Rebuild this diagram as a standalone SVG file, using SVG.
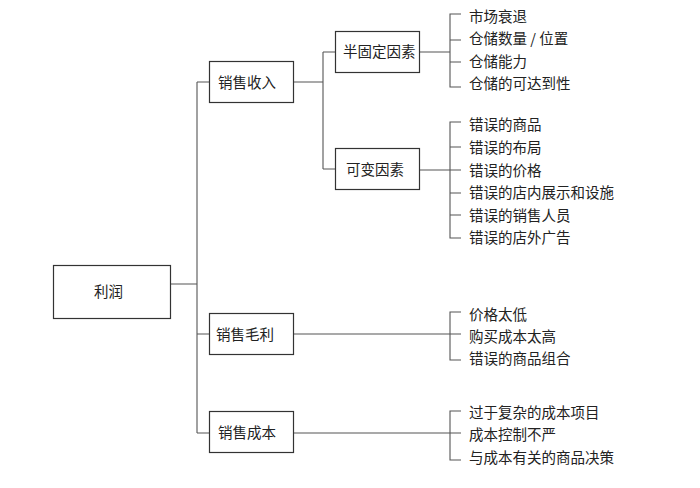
<svg xmlns="http://www.w3.org/2000/svg" width="700" height="488" viewBox="0 0 700 488">
<style>
.box{fill:#fff;stroke:#333;stroke-width:1.2}
.t{font-family:"Noto Sans CJK SC","Noto Sans",sans-serif;font-size:14.5px;fill:#222}
.c{fill:none;stroke:#555;stroke-width:1.1}
</style>
<rect width="700" height="488" fill="#fff"/>
<g id="connectors" class="c">
<path d="M170 284H197M197 82V433M197 82H209M197 334H209M197 433H209"/>
<path d="M293 82H323M323 52V169M323 52H335M323 169H335"/>
<path d="M419 52H450M461 14H450V87H461M450 40H461M450 62H461"/>
<path d="M419 170H461M461 122H450V238H461M450 147H461M450 193H461M450 215H461"/>
<path d="M293 334H461M461 312H450V360H461"/>
<path d="M293 433H461M461 411H450V460H461"/>
</g>
<g id="profit"><rect class="box" x="53.5" y="265.5" width="117" height="53"/><text class="t" x="94" y="297">利润</text></g>
<g id="revenue"><rect class="box" x="209.5" y="61.5" width="84" height="41"/><text class="t" x="218" y="87.5">销售收入</text></g>
<g id="grossmargin"><rect class="box" x="209.5" y="313.5" width="84" height="41"/><text class="t" x="216" y="339.5">销售毛利</text></g>
<g id="cost"><rect class="box" x="209.5" y="411.5" width="84" height="41"/><text class="t" x="218" y="438">销售成本</text></g>
<g id="semifixed"><rect class="box" x="335.5" y="31.5" width="84" height="41"/><text class="t" x="343" y="57">半固定因素</text></g>
<g id="variable"><rect class="box" x="335.5" y="148.5" width="84" height="41"/><text class="t" x="346" y="174.5">可变因素</text></g>
<g id="semifixed-items" class="t">
<text x="469" y="22">市场衰退</text>
<text x="469" y="44">仓储数量 / 位置</text>
<text x="469" y="66.5">仓储能力</text>
<text x="469" y="89">仓储的可达到性</text>
</g>
<g id="variable-items" class="t">
<text x="469" y="130">错误的商品</text>
<text x="469" y="153">错误的布局</text>
<text x="469" y="176">错误的价格</text>
<text x="469" y="198">错误的店内展示和设施</text>
<text x="469" y="221">错误的销售人员</text>
<text x="469" y="243">错误的店外广告</text>
</g>
<g id="grossmargin-items" class="t">
<text x="469" y="320">价格太低</text>
<text x="469" y="342">购买成本太高</text>
<text x="469" y="364">错误的商品组合</text>
</g>
<g id="cost-items" class="t">
<text x="469" y="418">过于复杂的成本项目</text>
<text x="469" y="440">成本控制不严</text>
<text x="469" y="463">与成本有关的商品决策</text>
</g>
</svg>
